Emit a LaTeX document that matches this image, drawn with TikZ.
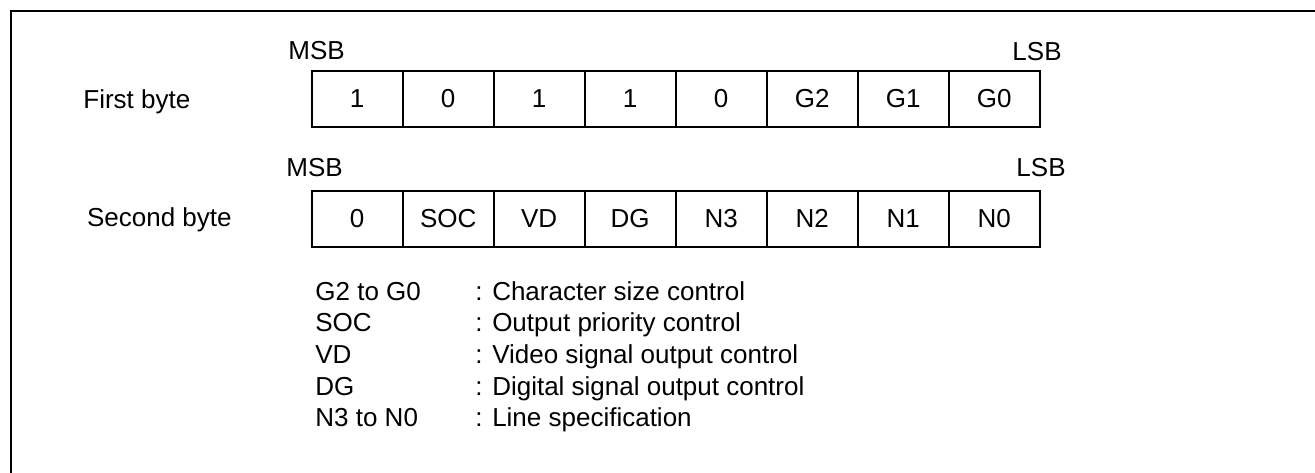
\documentclass[tikz,border=0pt]{standalone}
\usepackage{fontspec}
\setmainfont{Liberation Sans}
\usetikzlibrary{positioning}

\begin{document}
\begin{tikzpicture}[x=0.5pt, y=-0.5pt, font=\fontsize{13pt}{15.6pt}\selectfont,
     bit/.style={draw, line width=1pt, minimum width=45.5pt, minimum height=28pt, inner sep=0pt, outer sep=0pt},
     lbl/.style={inner sep=0pt}]
   \useasboundingbox (0,0) rectangle (1315,472);
   \clip (0,0) rectangle (1315,472);
   \draw[line width=1pt] (11,11) rectangle (1330,490);
   % first byte
   \node[lbl, anchor=base west] (name1) at (83,108) {First byte};
   \node[bit, anchor=north west] (a1) at (311.7,70.7) {1};
   \node[bit, right=0pt of a1] (a2) {0};
   \node[bit, right=0pt of a2] (a3) {1};
   \node[bit, right=0pt of a3] (a4) {1};
   \node[bit, right=0pt of a4] (a5) {0};
   \node[bit, right=0pt of a5] (a6) {G2};
   \node[bit, right=0pt of a6] (a7) {G1};
   \node[bit, right=0pt of a7] (a8) {G0};
   \node[lbl, anchor=base west] (msb1) at (288,59.3) {MSB};
   \node[lbl, anchor=base east] (lsb1) at (1062,60) {LSB};
   % second byte
   \node[lbl, anchor=base west] (name2) at (86.7,226) {Second byte};
   \node[bit, anchor=north west] (b1) at (311.7,190.7) {0};
   \node[bit, right=0pt of b1] (b2) {SOC};
   \node[bit, right=0pt of b2] (b3) {VD};
   \node[bit, right=0pt of b3] (b4) {DG};
   \node[bit, right=0pt of b4] (b5) {N3};
   \node[bit, right=0pt of b5] (b6) {N2};
   \node[bit, right=0pt of b6] (b7) {N1};
   \node[bit, right=0pt of b7] (b8) {N0};
   \node[lbl, anchor=base west] (msb2) at (286,176.7) {MSB};
   \node[lbl, anchor=base east] (lsb2) at (1066,176.5) {LSB};
   % legend
   \foreach \k/\d [count=\i from 0] in {G2 to G0/Character size control,
       SOC/Output priority control, VD/Video signal output control,
       DG/Digital signal output control, N3 to N0/Line specification} {
     \node[lbl, anchor=base west] (key\i) at (315,300+31.7*\i) {\k};
     \node[lbl, anchor=base west] (desc\i) at (475,300+31.7*\i) {: \d};
   }
  \end{tikzpicture}
\end{document}
